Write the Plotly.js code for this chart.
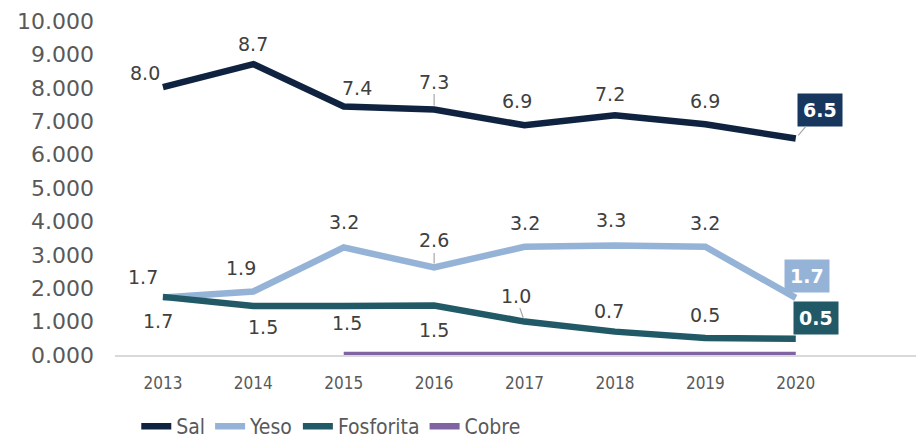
<!DOCTYPE html>
<html><head><meta charset="utf-8">
<script src="https://cdn.plot.ly/plotly-3.0.1.min.js"></script>
<style>html,body{margin:0;padding:0;background:#fff}#c{width:916px;height:447px}</style>
</head><body><div id="c"></div>
<script>
const years = ['2013','2014','2015','2016','2017','2018','2019','2020'];
const sal = [8.02, 8.71, 7.44, 7.35, 6.88, 7.18, 6.91, 6.48];
const yeso = [1.72, 1.90, 3.22, 2.62, 3.24, 3.28, 3.24, 1.71];
const fosforita = [1.74, 1.47, 1.47, 1.48, 1.00, 0.70, 0.51, 0.49];
const cobre = [null, null, 0, 0, 0, 0, 0, 0];
const salLabels = ['8.0','8.7','7.4','7.3','6.9','7.2','6.9','6.5'];
const yesoLabels = ['1.7','1.9','3.2','2.6','3.2','3.3','3.2','1.7'];
const fosLabels = ['1.7','1.5','1.5','1.5','1.0','0.7','0.5','0.5'];

const colors = {sal:'#0F2341', yeso:'#95B3D7', fos:'#215967', cobre:'#8064A2'};
const xs = years.map((_, i) => i);
const narrow = 'DejaVu Sans Condensed, Liberation Sans Narrow, Roboto';

function tr(name, y, color) {
  return {x: xs, y: y, name: name, type: 'scatter', mode: 'lines', cliponaxis: false,
    line: {color: color, width: 6.5}, hoverinfo: 'skip'};
}
const data = [tr('Sal', sal, colors.sal), tr('Yeso', yeso, colors.yeso),
  tr('Fosforita', fosforita, colors.fos), tr('Cobre', cobre, colors.cobre)];

// label layout offsets (pixels) and whether a leader line is drawn
const salOff = [[-18,-14],[0,-20],[13,-19],[0,-28,1],[-8,-24],[-5,-21],[0,-23],[24,-29,1]];
const yesoOff = [[-20,-21],[-12,-24],[0,-25],[0,-27,1],[0,-24],[-4,-25],[0,-24],[11,-22]];
const fosOff = [[-5,24],[10,21],[3,17],[0,24],[-9,-26,1],[-6,-21],[0,-23],[20,-21]];

const ann = [];
function addLabels(vals, labels, offs, boxColor, boxText) {
  vals.forEach((v, i) => {
    const o = offs[i];
    const last = i === vals.length - 1;
    const a = {x: i, y: v, xref: 'x', yref: 'y', text: labels[i],
      font: {family: 'DejaVu Sans', size: 19, color: '#404040'}};
    if (last) {
      a.font = {family: 'DejaVu Sans', size: 19, color: boxText, weight: 'bold'};
      a.bgcolor = boxColor; a.borderpad = 5;
    }
    if (o[2]) {
      a.showarrow = true; a.ax = o[0]; a.ay = o[1]; a.arrowhead = 0;
      a.arrowwidth = 1.2; a.arrowcolor = '#A6A6A6'; a.standoff = 4;
    } else {
      a.showarrow = false; a.xshift = o[0]; a.yshift = -o[1];
    }
    ann.push(a);
  });
}
addLabels(sal, salLabels, salOff, '#17375E', '#FFFFFF');
addLabels(yeso, yesoLabels, yesoOff, '#95B3D7', '#FFFFFF');
addLabels(fosforita, fosLabels, fosOff, '#215967', '#FFFFFF');

const layout = {
  width: 916, height: 447,
  margin: {l: 115, r: 0, t: 21, b: 92, autoexpand: false},
  paper_bgcolor: '#fff', plot_bgcolor: '#fff',
  showlegend: true,
  legend: {orientation: 'h', x: 0.27, xanchor: 'center',
    yref: 'container', y: 0, yanchor: 'bottom',
    font: {family: narrow, size: 21, color: '#595959'},
    itemwidth: 30, tracegroupgap: 0},
  xaxis: {range: [-0.53, 8.33], tickvals: xs, ticktext: years,
    showgrid: false, zeroline: false, showline: true, linecolor: '#D9D9D9', linewidth: 1.5,
    ticks: '', ticklabelstandoff: 12, automargin: false,
    tickfont: {family: narrow, size: 17, color: '#595959'}},
  yaxis: {range: [0, 10], dtick: 1, tick0: 0, tickformat: '.3f', automargin: false,
    showgrid: false, zeroline: false, showline: false, ticks: '',
    ticklabelstandoff: 20,
    tickfont: {family: 'DejaVu Sans', size: 22, color: '#595959'}},
  annotations: ann
};
Plotly.newPlot('c', data, layout, {displayModeBar: false, staticPlot: true});
</script></body></html>
